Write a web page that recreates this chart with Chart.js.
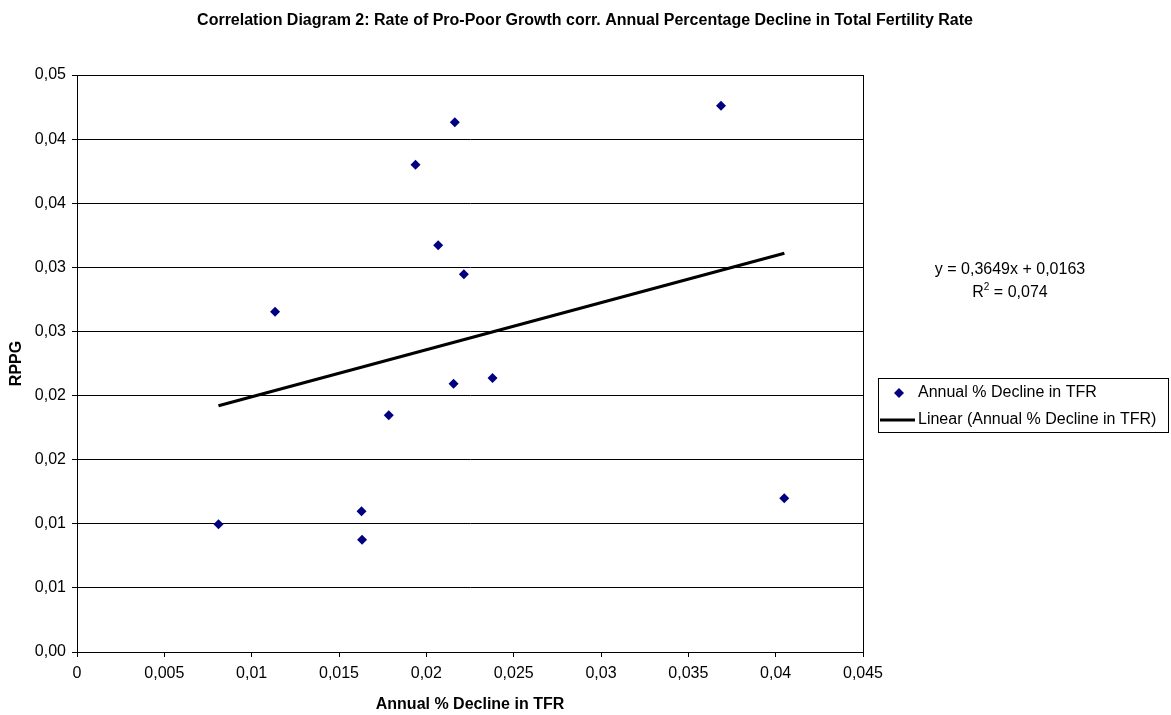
<!DOCTYPE html>
<html>
<head>
<meta charset="utf-8">
<title>Correlation Diagram 2</title>
<script src="https://cdn.jsdelivr.net/npm/chart.js@4"></script>
<style>
  body { margin: 0; background: #fff; }
  canvas { display: block; }
</style>
</head>
<body>
<canvas id="chart" width="1171" height="715"></canvas>
<script>
// values
const declineTFR = [0.0081, 0.01134, 0.01629, 0.01632, 0.01785, 0.01938, 0.02068, 0.02215, 0.02156, 0.02163, 0.02379, 0.03687, 0.04049];
const rppg = [0.00996, 0.02654, 0.01097, 0.00876, 0.01846, 0.03801, 0.03172, 0.02946, 0.02093, 0.04131, 0.02137, 0.04261, 0.01199];

// linear trendline end points
const trendX = [0.0081, 0.0405];
const trendY = [0.0192, 0.0311];

const xTickValues = [0, 0.005, 0.01, 0.015, 0.02, 0.025, 0.03, 0.035, 0.04, 0.045];
const xTickLabels = ['0', '0,005', '0,01', '0,015', '0,02', '0,025', '0,03', '0,035', '0,04', '0,045'];
const yTickValues = [0, 0.005, 0.01, 0.015, 0.02, 0.025, 0.03, 0.035, 0.04, 0.045];
const yTickLabels = ['0,00', '0,01', '0,01', '0,02', '0,02', '0,03', '0,03', '0,04', '0,04', '0,05'];

const seriesName = 'Annual % Decline in TFR';
const trendName = 'Linear (Annual % Decline in TFR)';
const titleText = 'Correlation Diagram 2: Rate of Pro-Poor Growth corr. Annual Percentage Decline in Total Fertility Rate';
const equationText = 'y = 0,3649x + 0,0163';
const r2Value = ' = 0,074';

const FONT = '"Liberation Sans", Arial, sans-serif';
const navy = '#000080';

const extras = {
    id: 'extras',
    afterDraw(chart) {
        const ctx = chart.ctx;
        const a = chart.chartArea;
        ctx.save();
        // plot border
        ctx.strokeStyle = '#000';
        ctx.lineWidth = 1;
        ctx.strokeRect(Math.round(a.left) + 0.5, Math.round(a.top) + 0.5, Math.round(a.right - a.left), Math.round(a.bottom - a.top));

        // title
        ctx.fillStyle = '#000';
        ctx.font = 'bold 16px ' + FONT;
        ctx.textAlign = 'center';
        ctx.textBaseline = 'middle';
        ctx.fillText(titleText, 585, 21);

        // trendline equation
        ctx.font = '16px ' + FONT;
        ctx.fillText(equationText, 1010, 270);
        const rW = ctx.measureText('R').width;
        const restW = ctx.measureText(r2Value).width;
        ctx.font = '10px ' + FONT;
        const supW = ctx.measureText('2').width;
        let sx = 1010 - (rW + supW + restW) / 2;
        ctx.textAlign = 'left';
        ctx.font = '16px ' + FONT;
        ctx.fillText('R', sx, 293);
        ctx.font = '10px ' + FONT;
        ctx.fillText('2', sx + rW, 287);
        ctx.font = '16px ' + FONT;
        ctx.fillText(r2Value, sx + rW + supW, 293);

        // legend
        const lx = 878, ly = 378, lw = 290, lh = 54;
        ctx.fillStyle = '#fff';
        ctx.fillRect(lx, ly, lw, lh);
        ctx.strokeStyle = '#000';
        ctx.lineWidth = 1;
        ctx.strokeRect(lx + 0.5, ly + 0.5, lw, lh);
        ctx.fillStyle = navy;
        ctx.beginPath();
        ctx.moveTo(899, 388);
        ctx.lineTo(904, 393);
        ctx.lineTo(899, 398);
        ctx.lineTo(894, 393);
        ctx.closePath();
        ctx.fill();
        ctx.strokeStyle = '#000';
        ctx.lineWidth = 3;
        ctx.beginPath();
        ctx.moveTo(880, 420);
        ctx.lineTo(915, 420);
        ctx.stroke();
        ctx.fillStyle = '#000';
        ctx.font = '16px ' + FONT;
        ctx.textAlign = 'left';
        ctx.fillText(seriesName, 918, 393);
        ctx.fillText(trendName, 918, 420);
        ctx.restore();
    }
};

const ctx = document.getElementById('chart').getContext('2d');
const chart = new Chart(ctx, {
    type: 'scatter',
    data: {
        datasets: [{
            label: seriesName,
            data: declineTFR.map((x, i) => ({x: x, y: rppg[i]})),
            pointStyle: 'rectRot',
            pointRadius: 5,
            pointHoverRadius: 5,
            backgroundColor: navy,
            borderColor: navy,
            borderWidth: 0
        }, {
            label: trendName,
            type: 'line',
            data: trendX.map((x, i) => ({x: x, y: trendY[i]})),
            showLine: true,
            borderColor: '#000',
            borderWidth: 3,
            pointRadius: 0,
            fill: false
        }]
    },
    options: {
        responsive: false,
        devicePixelRatio: 1,
        animation: false,
        layout: {
            padding: {top: 75, right: 308, left: 0, bottom: 0}
        },
        plugins: {
            legend: {display: false},
            tooltip: {enabled: false}
        },
        scales: {
            x: {
                type: 'linear',
                min: 0,
                max: 0.045,
                afterBuildTicks: (axis) => { axis.ticks = xTickValues.map(v => ({value: v})); },
                afterFit: (axis) => { axis.height = 63; },
                grid: {drawOnChartArea: false, drawTicks: true, tickLength: 5, color: '#000'},
                border: {display: true, color: '#000', width: 1},
                ticks: {
                    color: '#000',
                    font: {family: FONT, size: 16},
                    padding: 7,
                    maxRotation: 0,
                    callback: (v, i) => xTickLabels[i]
                },
                title: {
                    display: true,
                    text: 'Annual % Decline in TFR',
                    color: '#000',
                    font: {family: FONT, size: 16, weight: 'bold'},
                    padding: {top: 0, bottom: 1}
                }
            },
            y: {
                type: 'linear',
                min: 0,
                max: 0.045,
                afterBuildTicks: (axis) => { axis.ticks = yTickValues.map(v => ({value: v})); },
                afterFit: (axis) => { axis.width = 77; },
                grid: {drawTicks: true, tickLength: 5, color: '#000', lineWidth: 1},
                border: {display: true, color: '#000', width: 1},
                ticks: {
                    color: '#000',
                    font: {family: FONT, size: 16},
                    padding: 6,
                    callback: (v, i) => yTickLabels[i]
                },
                title: {
                    display: true,
                    text: 'RPPG',
                    color: '#000',
                    font: {family: FONT, size: 16, weight: 'bold'},
                    padding: {top: 7, bottom: 0}
                }
            }
        }
    },
    plugins: [extras]
});
</script>
</body>
</html>
